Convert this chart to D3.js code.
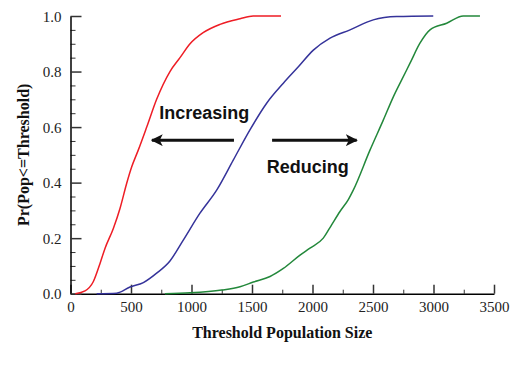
<!DOCTYPE html>
<meta charset="utf-8">
<style>
body { margin: 0; background: #fff; }
.tick text { font-family: "Liberation Serif", "Times New Roman", serif; font-size: 15px; fill: #222; }
.title { font-family: "Liberation Serif", "Times New Roman", serif; font-size: 16px; font-weight: bold; fill: #111; }
.note { font-family: "Liberation Sans", Arial, sans-serif; font-size: 18px; font-weight: bold; fill: #111; }
</style>
<body>
<svg width="527" height="365"></svg>
<script src="https://d3js.org/d3.v7.min.js"></script>
<script>

var redCurve = [[40,0],[120,0.01],[188,0.043],[244,0.109],[285,0.163],[354,0.235],[409,0.307],[464,0.397],[506,0.457],[560,0.517],[630,0.6],[712,0.7],[822,0.8],[905,0.85],[988,0.9],[1096,0.94],[1236,0.97],[1401,0.99],[1510,1.0],[1740,1.0]];
var blueCurve = [[216,0],[382,0.002],[492,0.024],[602,0.04],[712,0.074],[822,0.118],[932,0.193],[1070,0.29],[1208,0.373],[1345,0.481],[1483,0.59],[1621,0.686],[1759,0.758],[1883,0.817],[2007,0.877],[2145,0.92],[2310,0.95],[2502,0.986],[2695,0.998],[2998,1.0]];
var greenCurve = [[781,0],[988,0.003],[1250,0.013],[1401,0.025],[1511,0.042],[1649,0.062],[1759,0.091],[1897,0.139],[1979,0.164],[2089,0.2],[2158,0.248],[2227,0.296],[2296,0.339],[2337,0.373],[2475,0.517],[2585,0.625],[2668,0.709],[2737,0.77],[2806,0.83],[2888,0.902],[2971,0.95],[3109,0.974],[3246,1.0],[3384,1.0]];

var xTicks = [0, 500, 1000, 1500, 2000, 2500, 3000, 3500];
var yTicks = [0, 0.2, 0.4, 0.6, 0.8, 1.0];

var svg = d3.select("svg"),
    mLeft = 70.5, mRight = 494, mTop = 16, mBottom = 293.7;

var x = d3.scaleLinear().domain([0, 3500]).range([mLeft, mRight]);
var y = d3.scaleLinear().domain([0, 1]).range([mBottom, mTop]);

var line = d3.line()
    .curve(d3.curveMonotoneX)
    .x(function(d) { return x(d[0]); })
    .y(function(d) { return y(d[1]); });

// minor ticks first so the major ones sit on top
svg.append("g")
    .attr("transform", "translate(0," + mBottom + ")")
    .call(d3.axisTop(x).tickValues(d3.range(250, 3500, 500)).tickSize(4).tickFormat(""))
    .call(function(g) { g.select(".domain").remove(); g.selectAll("line").attr("stroke", "#333"); });

svg.append("g")
    .attr("transform", "translate(" + mLeft + ",0)")
    .call(d3.axisRight(y).tickValues(d3.range(0.05, 1, 0.1).concat(d3.range(0.1, 1, 0.2))).tickSize(5).tickFormat(""))
    .call(function(g) { g.select(".domain").remove(); g.selectAll("line").attr("stroke", "#333"); });

var xAxis = svg.append("g")
    .attr("transform", "translate(0," + mBottom + ")")
    .call(d3.axisTop(x).tickValues(xTicks).tickSize(9).tickSizeOuter(0).tickFormat(d3.format("d")));
xAxis.selectAll(".tick text").attr("y", 18).attr("dy", 0);
xAxis.selectAll("line").attr("stroke", "#333").attr("stroke-width", 1.5);
xAxis.select(".domain").attr("stroke", "#000").attr("stroke-width", 1.5);

var yAxis = svg.append("g")
    .attr("transform", "translate(" + mLeft + ",0)")
    .call(d3.axisRight(y).tickValues(yTicks).tickSize(11).tickSizeOuter(0).tickFormat(d3.format(".1f")));
yAxis.selectAll(".tick text").attr("x", -9).attr("text-anchor", "end").attr("dy", "0.35em");
yAxis.selectAll("line").attr("stroke", "#333").attr("stroke-width", 1.5);
yAxis.select(".domain").attr("stroke", "#000").attr("stroke-width", 1.5);

svg.append("path").datum(redCurve)
    .attr("fill", "none").attr("stroke", "#ee1d25").attr("stroke-width", 1.5).attr("d", line);
svg.append("path").datum(blueCurve)
    .attr("fill", "none").attr("stroke", "#35339a").attr("stroke-width", 1.5).attr("d", line);
svg.append("path").datum(greenCurve)
    .attr("fill", "none").attr("stroke", "#23883b").attr("stroke-width", 1.5).attr("d", line);

svg.append("text").attr("class", "title")
    .attr("x", (mLeft + mRight) / 2).attr("y", 338)
    .attr("text-anchor", "middle")
    .text("Threshold Population Size");

svg.append("text").attr("class", "title")
    .attr("transform", "translate(29," + ((mTop + mBottom) / 2) + ") rotate(-90)")
    .attr("text-anchor", "middle")
    .text("Pr(Pop<=Threshold)");

// annotations
svg.append("defs").append("marker")
    .attr("id", "head")
    .attr("viewBox", "0 0 10 10")
    .attr("refX", 9).attr("refY", 5)
    .attr("markerWidth", 4).attr("markerHeight", 4)
    .attr("markerUnits", "strokeWidth")
    .attr("orient", "auto")
  .append("path")
    .attr("d", "M0,0L10,5L0,10L2.5,5Z")
    .attr("fill", "#111");

svg.append("line")
    .attr("x1", x(1351)).attr("y1", y(0.553))
    .attr("x2", x(673)).attr("y2", y(0.553))
    .attr("stroke", "#111").attr("stroke-width", 3)
    .attr("marker-end", "url(#head)");
svg.append("line")
    .attr("x1", x(1666)).attr("y1", y(0.553))
    .attr("x2", x(2365)).attr("y2", y(0.553))
    .attr("stroke", "#111").attr("stroke-width", 3)
    .attr("marker-end", "url(#head)");

svg.append("text").attr("class", "note")
    .attr("x", x(733)).attr("y", y(0.628))
    .text("Increasing");
svg.append("text").attr("class", "note")
    .attr("x", x(1621)).attr("y", y(0.434))
    .text("Reducing");
</script>
</body>
